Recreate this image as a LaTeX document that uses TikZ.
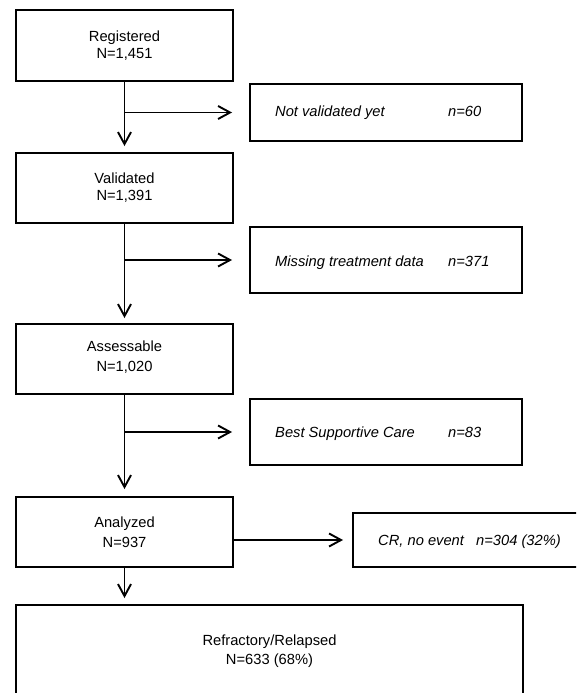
\documentclass[tikz,border=0pt]{standalone}
\usepackage{fontspec}
\setmainfont{Liberation Sans}
\usetikzlibrary{arrows.meta}
\begin{document}
\begin{tikzpicture}[x=1pt,y=-1pt,
  mainbox/.style={draw,line width=1.9pt,minimum width=217pt,inner sep=0pt,align=center,
     font=\fontsize{14.7}{17}\selectfont},
  sidebox/.style={draw,line width=1.9pt,minimum width=272pt,inner sep=0pt},
  sidetext/.style={anchor=base west,inner sep=0pt,font=\fontsize{14.7}{17}\selectfont\itshape},
  flow/.style={line width=1.9pt,-{Straight Barb[length=12pt,width=13pt]}}]
\useasboundingbox (0,0) rectangle (576,693);
\clip (0,0) rectangle (576,693);
% main boxes
\node[mainbox,minimum height=71pt] (b1) at (124.5,45.5) {Registered\\N=1,451};
\node[mainbox,minimum height=70pt] (b2) at (124.5,188) {Validated\\N=1,391};
\node[mainbox,minimum height=70pt,font=\fontsize{14.7}{20}\selectfont,text depth=6pt] (b3) at (124.5,359) {Assessable\\N=1,020};
\node[mainbox,minimum height=70pt,font=\fontsize{14.7}{20}\selectfont] (b4) at (124.5,532) {Analyzed\\N=937};
\node[mainbox,minimum width=507pt,minimum height=92pt,font=\fontsize{14.7}{19}\selectfont] (b5) at (269.5,651) {Refractory/Relapsed\\N=633 (68\%)};
% side boxes
\node[sidebox,minimum height=57pt] (s1) at (386,112.5) {};
\node[sidebox,minimum height=66pt] (s2) at (386,260) {};
\node[sidebox,minimum height=66pt] (s3) at (386,432) {};
\node[draw,line width=1.9pt,minimum width=226pt,minimum height=54pt,inner sep=0pt] (s4) at (466,540) {};
% side texts
\node[sidetext] (t1a) at (275,116) {Not validated yet};
\node[sidetext] (t1b) at (448,116) {n=60};
\node[sidetext] (t2a) at (275,266) {Missing treatment data};
\node[sidetext] (t2b) at (448,266) {n=371};
\node[sidetext] (t3a) at (275,437) {Best Supportive Care};
\node[sidetext] (t3b) at (448,437) {n=83};
\node[sidetext] (t4a) at (378,545) {CR, no event};
\node[sidetext] (t4b) at (476,545) {n=304 (32\%)};
% junctions
\coordinate (j1) at (b1.south |- s1.west);
\coordinate (j2) at (b2.south |- s2.west);
\coordinate (j3) at (b3.south |- s3.west);
% connectors
\draw[flow,shorten >=6pt] (b1.south) -- (b2.north);
\draw[flow,shorten >=17pt] (j1) -- (s1.west);
\draw[flow,shorten >=5pt] (b2.south) -- (b3.north);
\draw[flow,shorten >=17pt] (j2) -- (s2.west);
\draw[flow,shorten >=7pt] (b3.south) -- (b4.north);
\draw[flow,shorten >=17pt] (j3) -- (s3.west);
\draw[flow,shorten >=9pt] (b4.east |- s4.west) -- (s4.west);
\draw[flow,shorten >=6pt] (b4.south) -- (b4.south |- b5.north);
\end{tikzpicture}
\end{document}
